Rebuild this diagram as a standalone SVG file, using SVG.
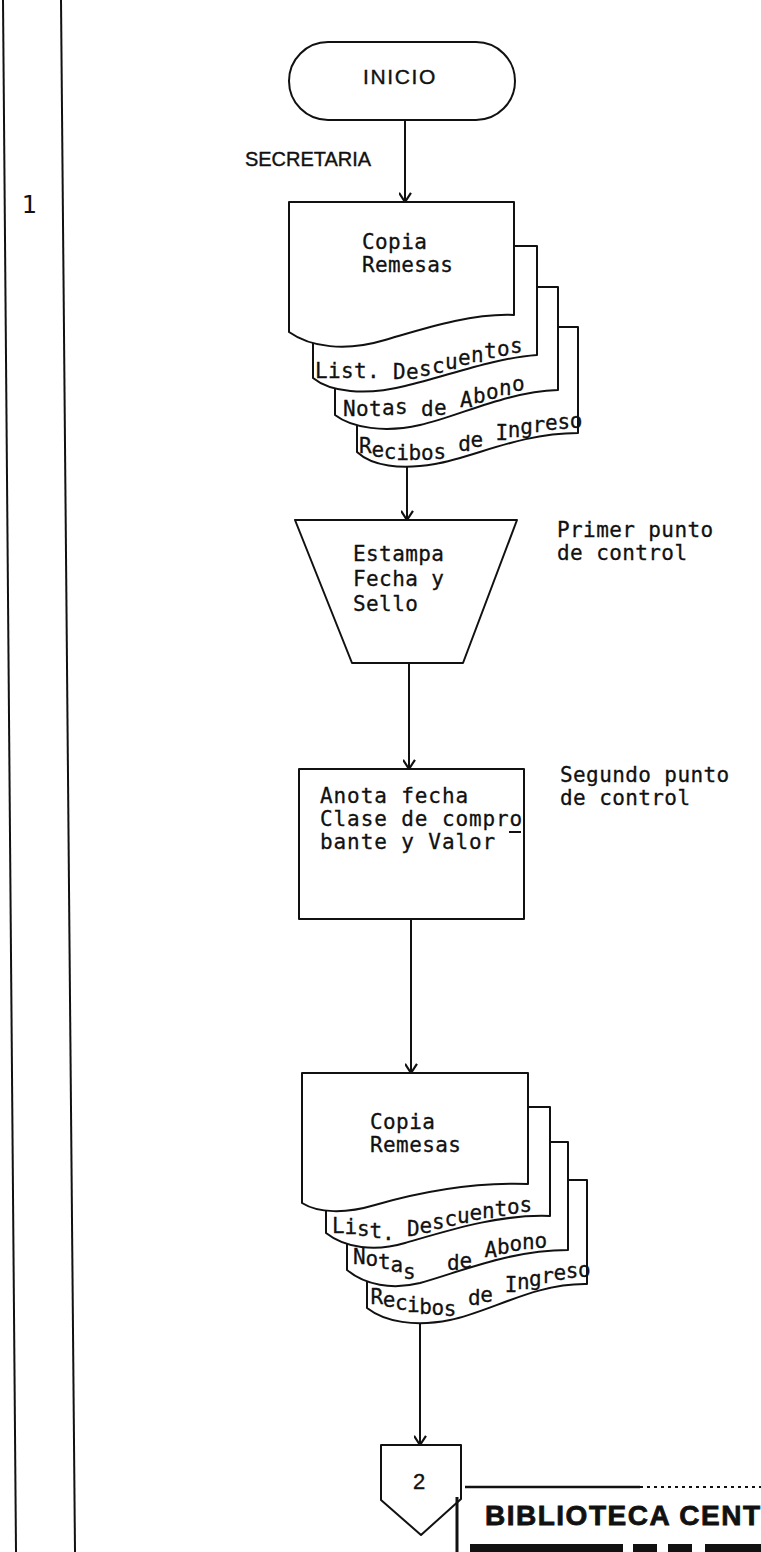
<svg xmlns="http://www.w3.org/2000/svg" width="761" height="1552" viewBox="0 0 761 1552">
<defs>
<style>
.s{fill:#fff;stroke:#111;stroke-width:2;stroke-linejoin:round}
.ln{fill:none;stroke:#111;stroke-width:2}
.t{font-family:"DejaVu Sans Mono",monospace;font-size:21px;fill:#111;stroke:#111;stroke-width:0.3px;letter-spacing:0.4px}
.tr{letter-spacing:0.9px}
.w{font-family:"DejaVu Sans Mono",monospace;font-size:21px;fill:#111;stroke:#111;stroke-width:0.3px}
.sans{font-family:"Liberation Sans",Arial,sans-serif;fill:#111}
</style>
<marker id="arrow" viewBox="0 0 12 12" refX="11" refY="6" markerWidth="13" markerHeight="13" markerUnits="userSpaceOnUse" orient="auto">
<path d="M2.5,0.5 L11,6 L2.5,11.5" fill="none" stroke="#111" stroke-width="2"/>
</marker>
</defs>
<rect x="0" y="0" width="761" height="1552" fill="#fff"/>

<g id="margin">
<line class="ln" x1="3" y1="0" x2="16" y2="1552"/>
<line class="ln" x1="61" y1="0" x2="75" y2="1552"/>
<text x="21.5" y="213" style="font-family:'DejaVu Sans Mono',monospace;font-size:25px;fill:#111">1</text>
</g>

<g id="connectors">
<line class="ln" x1="405" y1="120" x2="405" y2="202" marker-end="url(#arrow)"/>
<line class="ln" x1="407" y1="466" x2="407" y2="520" marker-end="url(#arrow)"/>
<line class="ln" x1="409" y1="663" x2="409" y2="769" marker-end="url(#arrow)"/>
<line class="ln" x1="411" y1="919" x2="411" y2="1073" marker-end="url(#arrow)"/>
<line class="ln" x1="420" y1="1322" x2="420" y2="1445" marker-end="url(#arrow)"/>
</g>

<g id="inicio">
<rect class="s" x="289" y="42" width="226" height="78" rx="39" ry="39"/>
<text class="sans" x="400" y="84" text-anchor="middle" font-size="21" letter-spacing="1.6" stroke="#111" stroke-width="0.4">INICIO</text>
</g>

<g id="secretaria-label">
<text class="sans" x="245" y="166" font-size="21" textLength="126" lengthAdjust="spacingAndGlyphs" stroke="#111" stroke-width="0.4">SECRETARIA</text>
</g>

<g id="docs-1">
<path class="s" d="M357,452 C372,466 400,470 435,464 C475,457 520,433 578,433 V327 H357 Z"/>
<path class="s" d="M335,415 C352,428 385,433 420,425 C460,416 505,392 558,390 V287 H335 Z"/>
<path class="s" d="M313,378 C330,392 365,396 405,386 C450,375 495,358 537,355 V246 H313 Z"/>
<path class="s" d="M289,332 C310,347 345,352 385,340 C420,330 470,313 514,315 V202 H289 Z"/>
<text class="t" x="362" y="249">Copia</text>
<text class="t" x="362" y="272">Remesas</text>
<text class="w" x="315 328 341 354 367 380 393 406 419 432 445 458 471 484 497 510" y="378 378 378 378 378 378 379 379 376 373 369 365 362 358 356 353">List. Descuentos</text>
<text class="w" x="343 356 369 382 395 408 421 434 447 460 473 486 499 512" y="416 416 416 415 414 414 416 415 411 407 403 399 395 391">Notas de Abono</text>
<text class="w" x="359 371.4 383.8 396.2 408.6 421 433.4 445.8 458.2 470.6 483 495.4 507.8 520.2 532.6 545 557.4 569.8" y="453 457 459 460 460 460 459 455 451 447 443 440 437 434 432 430 429 428">Recibos de Ingreso</text>
</g>

<g id="estampa">
<path class="s" d="M295,520 L517,520 L463,663 L352,663 Z"/>
<text class="t" x="353" y="561">Estampa</text>
<text class="t" x="353" y="586">Fecha y</text>
<text class="t" x="353" y="611">Sello</text>
</g>

<g id="primer-punto">
<text class="t" x="557" y="537">Primer punto</text>
<text class="t" x="557" y="560">de control</text>
</g>

<g id="anota">
<rect class="s" x="299" y="769" width="225" height="150"/>
<text class="t tr" x="320" y="803">Anota fecha</text>
<text class="t tr" x="320" y="826">Clase de compro</text>
<text class="t tr" x="320" y="849">bante y Valor</text>
<line class="ln" x1="509" y1="832" x2="521" y2="832"/>
</g>

<g id="segundo-punto">
<text class="t" x="560" y="782">Segundo punto</text>
<text class="t" x="560" y="805">de control</text>
</g>

<g id="docs-2">
<path class="s" d="M367,1308 C385,1322 415,1327 450,1320 C490,1312 535,1283 587,1284 V1180 H367 Z"/>
<path class="s" d="M347,1270 C365,1285 392,1290 420,1283 C460,1272 510,1250 568,1250 V1142 H347 Z"/>
<path class="s" d="M326,1233 C345,1248 375,1252 405,1243 C450,1230 500,1214 550,1216 V1107 H326 Z"/>
<path class="s" d="M302,1203 C318,1213 345,1214 375,1205 C420,1192 470,1182 528,1184 V1073 H302 Z"/>
<text class="t" x="370" y="1129">Copia</text>
<text class="t" x="370" y="1152">Remesas</text>
<text class="w" x="332 344.5 357 369.5 382 394.5 407 419.5 432 444.5 457 469.5 482 494.5 507 519.5" y="1233 1234 1236 1238 1240 1238 1236 1233 1229 1226 1223 1220 1218 1216 1214 1212">List. Descuentos</text>
<text class="w" x="353 365.5 378 390.5 403 415.5 447 459.5 472 484.5 497 509.5 522 534.5" y="1264 1266 1269 1272 1279 1275 1270 1268 1263 1257 1254 1251 1249 1248">Notas de Abono</text>
<text class="w" x="370.5 382.7 394.9 407.1 419.3 431.5 443.7 455.9 468.1 480.3 492.5 504.7 516.9 529.1 541.3 553.5 565.7 577.9" y="1304 1307 1310 1312 1314 1315 1316 1310 1305 1302 1296 1292 1289 1286 1283 1280 1278 1277">Recibos de Ingreso</text>
</g>

<g id="connector-2">
<path class="s" d="M381,1445 H461 V1499 L421,1535 L381,1500 Z"/>
<text class="sans" x="419" y="1489" text-anchor="middle" font-size="22" stroke="#111" stroke-width="0.4">2</text>
</g>

<g id="stamp">
<line x1="465" y1="1487" x2="640" y2="1487" stroke="#111" stroke-width="2.5"/>
<line x1="640" y1="1487" x2="761" y2="1487" stroke="#111" stroke-width="2" stroke-dasharray="3 4"/>
<line x1="457" y1="1497" x2="457" y2="1552" stroke="#111" stroke-width="3"/>
<text class="sans" x="485" y="1525" font-size="28" font-weight="bold" letter-spacing="1.5" stroke="#111" stroke-width="0.8">BIBLIOTECA CENT</text>
<rect x="470" y="1544" width="153" height="8" fill="#111"/>
<rect x="633" y="1544" width="24" height="8" fill="#111"/>
<rect x="668" y="1544" width="24" height="8" fill="#111"/>
<rect x="705" y="1544" width="56" height="8" fill="#111"/>
</g>
</svg>
